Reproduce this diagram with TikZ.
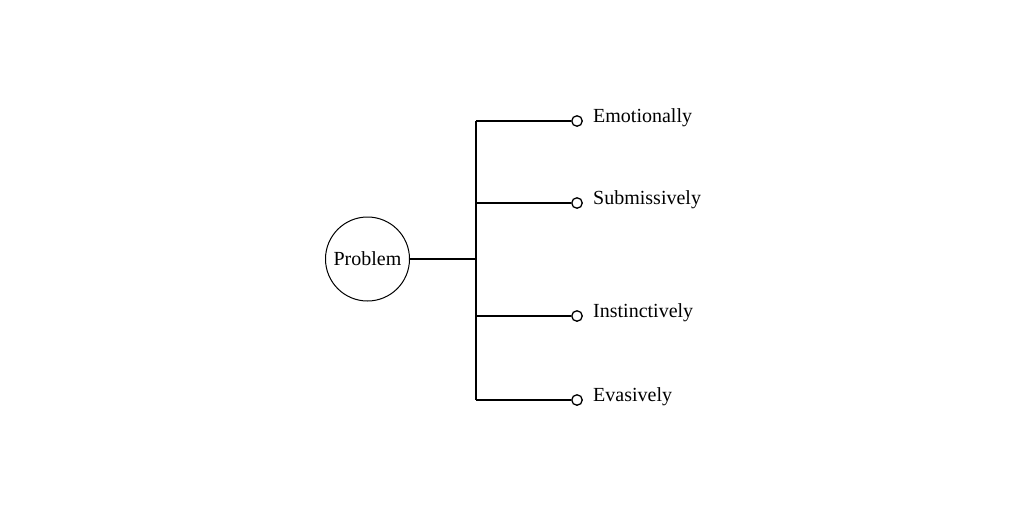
\documentclass[tikz,border=0pt]{standalone}
\usepackage{fontspec}
\setmainfont{Liberation Serif}
\begin{document}
\begin{tikzpicture}[x=1pt,y=-1pt,
  conn/.style={line width=1.2pt, black},
  endpt/.style={circle, draw, line width=1.3pt, fill=white, inner sep=0pt, minimum size=10.5pt},
  lbl/.style={anchor=base west, inner sep=0pt, font=\fontsize{20}{23}\selectfont},
  hub/.style={circle, draw, line width=1pt, minimum size=84pt, inner sep=0pt, font=\fontsize{20}{23}\selectfont}]
\useasboundingbox (0,0) rectangle (1024,512);
\node[hub] (p) at (367.5,259) {Problem};
\coordinate (j) at (476,259);
\coordinate (t) at (476,121);
\coordinate (b) at (476,400);
\draw[conn] (p.east) -- (j);
\draw[conn] (t) -- (b);
\foreach \y/\n/\txt in {121/a/Emotionally, 203/b/Submissively, 316/c/Instinctively, 400/d/Evasively} {
  \coordinate (s\n) at (476,\y);
  \node[endpt] (e\n) at (577,\y) {};
  \draw[conn] (s\n) -- (e\n.west);
  \node[lbl] (l\n) at (593,\y+1) {\txt};
}
\end{tikzpicture}
\end{document}
